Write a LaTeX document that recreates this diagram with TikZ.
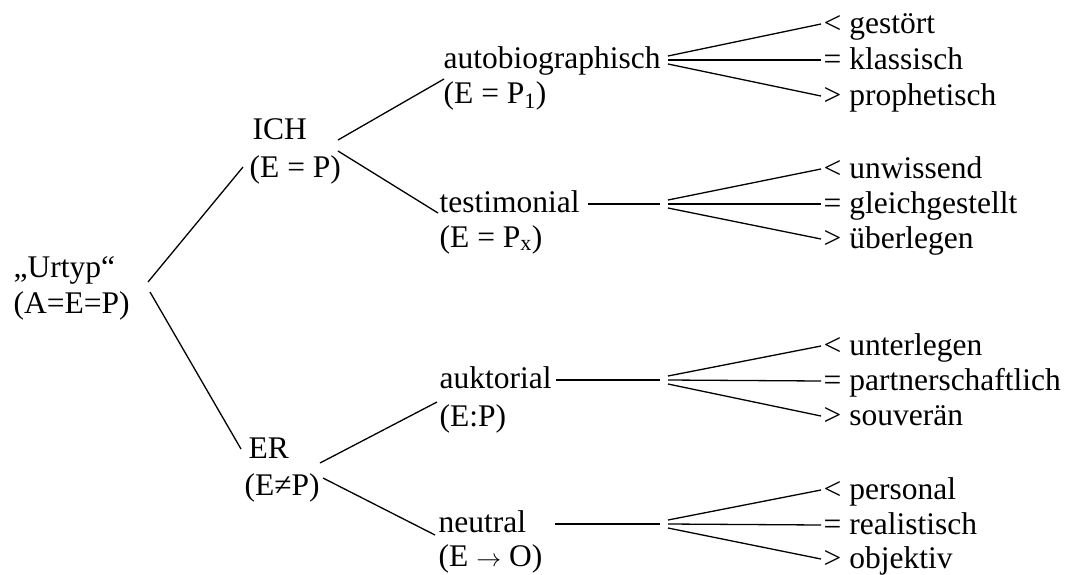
\documentclass[tikz,border=0pt]{standalone}
\usepackage{fontspec}
\setmainfont{Liberation Serif}
\begin{document}
\begin{tikzpicture}[x=1pt,y=-1pt,line width=1.3pt,
  lbl/.style={anchor=base west,inner sep=0pt,font=\fontsize{31.5}{37}\selectfont},
  tip/.style={xshift=-2pt,yshift=9pt}]
\useasboundingbox (0,0) rectangle (1074,574);

% root
\node[lbl] (urtyp)  at (13,277) {„Urtyp“};
\node[lbl] (urtypf) at (13,313) {(A=E=P)};

% first level
\node[lbl] (ich)  at (252,139) {ICH};
\node[lbl] (ichf) at (249,177) {(E = P)};
\node[lbl] (er)   at (248,458) {ER};
\node[lbl] (erf)  at (244,495) {(E≠P)};

% second level
\node[lbl] (auto)  at (443,68)  {autobiographisch};
\node[lbl] (autof) at (443,103) {(E = P\textsubscript{1})};
\node[lbl] (test)  at (439,212) {testimonial};
\node[lbl] (testf) at (439,247) {(E = P\textsubscript{x})};
\node[lbl] (akt)   at (439,388) {auktorial};
\node[lbl] (aktf)  at (439,426) {(E:P)};
\node[lbl] (neu)   at (438,532) {neutral};
\node[lbl] (neuf)  at (438,566) {(E \(\rightarrow\) O)};

% third level
\node[lbl] (a1) at (823,33)  {< gestört};
\node[lbl] (a2) at (823,69)  {= klassisch};
\node[lbl] (a3) at (823,105) {> prophetisch};
\node[lbl] (b1) at (823,178) {< unwissend};
\node[lbl] (b2) at (823,213) {= gleichgestellt};
\node[lbl] (b3) at (823,248) {> überlegen};
\node[lbl] (c1) at (823,355) {< unterlegen};
\node[lbl] (c2) at (823,390) {= partnerschaftlich};
\node[lbl] (c3) at (823,425) {> souverän};
\node[lbl] (d1) at (823,499) {< personal};
\node[lbl] (d2) at (823,534) {= realistisch};
\node[lbl] (d3) at (823,568) {> objektiv};

% branch points of the tree
\coordinate (u1) at (148,282); \coordinate (i1) at (243,167);
\coordinate (u2) at (150,292); \coordinate (e1) at (241,449);
\coordinate (i2) at (338,140); \coordinate (p1) at (444,79);
\coordinate (i3) at (338,151); \coordinate (t1) at (438,213);
\coordinate (e2) at (320,463); \coordinate (k1) at (437,402);
\coordinate (e3) at (323,478); \coordinate (n1) at (435,535);

\draw (u1) -- (i1);
\draw (u2) -- (e1);
\draw (i2) -- (p1);
\draw (i3) -- (t1);
\draw (e2) -- (k1);
\draw (e3) -- (n1);

% lead lines towards the fans
\coordinate (tb) at (660,204);
\coordinate (kb) at (660,380);
\coordinate (nb) at (660,524);
\draw ([shift={(8pt,8pt)}]test.base east) -- (tb);
\draw ([shift={(4pt,8pt)}]akt.base east) -- (kb);
\draw ([shift={(28pt,8pt)}]neu.base east) -- (nb);

% fans
\coordinate (fa) at (668,64);
\coordinate (fb) at (668,208);
\coordinate (fc) at (668,384);
\coordinate (fd) at (668,528);
\foreach \f/\g in {fa/a,fb/b,fc/c,fd/d}{
  \draw ([yshift=8pt]\f) -- ([tip]\g1.base west);
  \draw ([yshift=4pt]\f) -- ([tip]\g2.base west);
  \draw (\f) -- ([tip]\g3.base west);
}
\end{tikzpicture}
\end{document}
